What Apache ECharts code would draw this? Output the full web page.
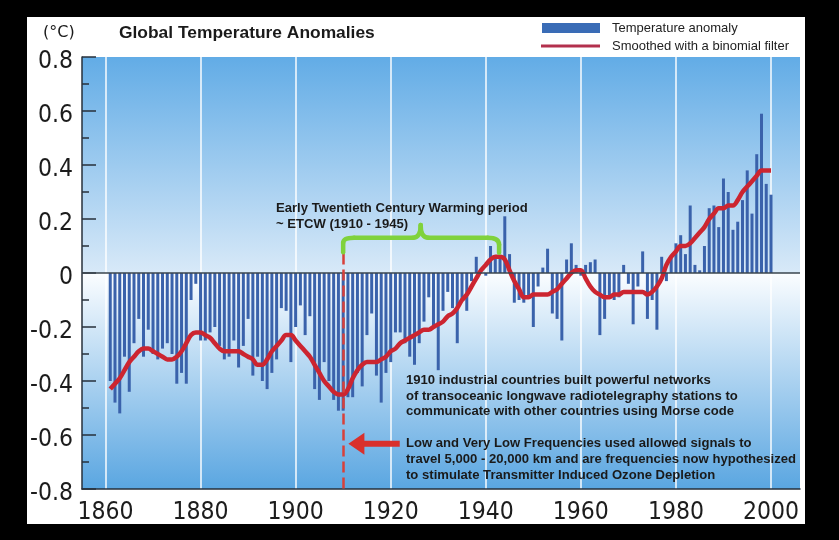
<!DOCTYPE html>
<html><head><meta charset="utf-8">
<script src="https://cdn.jsdelivr.net/npm/echarts@6/dist/echarts.min.js"></script>
<style>
html,body{margin:0;padding:0;background:#000;}
#wrap{position:relative;width:839px;height:540px;background:#000;overflow:hidden;}
#panel{position:absolute;left:27px;top:17px;width:778px;height:507px;background:#fff;}
#c{position:absolute;left:0;top:0;width:839px;height:540px;}
</style>
</head><body>
<div id="wrap"><div id="panel"></div><div id="c"></div></div>
<script>
// Annual global temperature anomalies (°C), 1861-2000
const firstYear = 1861;
const anomaly = [
 -0.40,-0.48,-0.52,-0.31,-0.44,-0.26,-0.17,-0.31,-0.21,-0.30,
 -0.32,-0.28,-0.26,-0.30,-0.41,-0.37,-0.41,-0.10,-0.04,-0.25,
 -0.25,-0.22,-0.20,-0.27,-0.32,-0.31,-0.25,-0.35,-0.27,-0.17,
 -0.38,-0.31,-0.40,-0.43,-0.37,-0.32,-0.13,-0.14,-0.33,-0.20,
 -0.12,-0.23,-0.16,-0.43,-0.47,-0.33,-0.40,-0.47,-0.51,-0.51,
 -0.46,-0.46,-0.37,-0.42,-0.23,-0.15,-0.38,-0.48,-0.37,-0.33,
 -0.22,-0.22,-0.26,-0.31,-0.34,-0.26,-0.18,-0.09,-0.20,-0.36,
 -0.14,-0.07,-0.13,-0.26,-0.10,-0.14,-0.03,0.06,0.00,-0.01,
 0.10,0.06,0.06,0.21,0.07,-0.11,-0.10,-0.11,-0.09,-0.20,
 -0.05,0.02,0.09,-0.15,-0.17,-0.25,0.05,0.11,0.03,-0.01,
 0.03,0.04,0.05,-0.23,-0.17,-0.09,-0.10,-0.09,0.03,-0.04,
 -0.19,-0.05,0.08,-0.17,-0.10,-0.21,0.06,-0.03,0.06,0.11,
 0.14,0.07,0.25,0.03,0.01,0.10,0.24,0.25,0.17,0.35,
 0.30,0.16,0.19,0.27,0.38,0.22,0.44,0.59,0.33,0.29
];
// Smoothed curve (binomial filter), 1861-2000
const smoothed = [
 -0.43,-0.41,-0.39,-0.36,-0.33,-0.31,-0.29,-0.28,-0.28,-0.29,
 -0.30,-0.31,-0.32,-0.32,-0.31,-0.29,-0.26,-0.23,-0.22,-0.22,
 -0.23,-0.24,-0.26,-0.28,-0.29,-0.29,-0.29,-0.29,-0.30,-0.31,
 -0.32,-0.34,-0.34,-0.32,-0.29,-0.27,-0.25,-0.23,-0.23,-0.25,
 -0.27,-0.29,-0.31,-0.34,-0.37,-0.40,-0.42,-0.44,-0.45,-0.45,
 -0.43,-0.39,-0.36,-0.34,-0.33,-0.33,-0.33,-0.32,-0.31,-0.29,
 -0.28,-0.26,-0.25,-0.24,-0.23,-0.22,-0.21,-0.21,-0.20,-0.19,
 -0.18,-0.16,-0.15,-0.13,-0.10,-0.08,-0.05,-0.02,0.01,0.03,
 0.05,0.06,0.06,0.05,0.01,-0.03,-0.06,-0.09,-0.09,-0.08,
 -0.08,-0.08,-0.08,-0.07,-0.06,-0.04,-0.02,0.00,0.01,0.01,
 -0.02,-0.05,-0.07,-0.08,-0.09,-0.09,-0.08,-0.08,-0.07,-0.07,
 -0.07,-0.07,-0.07,-0.08,-0.07,-0.05,-0.02,0.03,0.06,0.08,
 0.10,0.10,0.11,0.13,0.15,0.17,0.20,0.22,0.24,0.24,
 0.25,0.25,0.27,0.30,0.32,0.34,0.36,0.38,0.38,0.38
];
const years = anomaly.map((_, i) => firstYear + i);
const xTickYears = [1860, 1880, 1900, 1920, 1940, 1960, 1980, 2000];
const etcwStart = 1910, etcwPeak = 1942.8;

const chart = echarts.init(document.getElementById('c'), null, {renderer: 'canvas'});
const axisColor = '#27313b';
const tickFont = '"DejaVu Sans Condensed", "Liberation Sans", sans-serif';

chart.setOption({
  backgroundColor: 'transparent',
  animation: false,
  grid: {
    left: 82, top: 57, width: 718, height: 432, show: true, borderWidth: 0,
    backgroundColor: {type: 'linear', x: 0, y: 0, x2: 0, y2: 1, colorStops: [
      {offset: 0, color: '#62ace6'},
      {offset: 0.499, color: '#d8e9f8'},
      {offset: 0.5, color: '#fbfdff'},
      {offset: 1, color: '#5aa6e1'}
    ]}
  },
  xAxis: {
    type: 'value', min: 1855.06, max: 2006.1,
    axisLine: {show: true, onZero: false, lineStyle: {color: axisColor, width: 1.5}},
    axisTick: {show: false, customValues: xTickYears},
    axisLabel: {customValues: xTickYears, fontSize: 24.5, fontFamily: tickFont,
      color: '#1c1c1c', margin: 11, formatter: v => String(Math.round(v))},
    splitLine: {show: true, lineStyle: {color: '#ffffff', width: 1.6, opacity: 0.9}}
  },
  yAxis: {
    type: 'value', min: -0.8, max: 0.8, interval: 0.2,
    axisLine: {show: true, lineStyle: {color: axisColor, width: 1.5}},
    axisTick: {show: true, inside: true, length: 14, lineStyle: {color: axisColor, width: 1.5}},
    minorTick: {show: true, splitNumber: 2, length: 7, lineStyle: {color: axisColor, width: 1.5}},
    axisLabel: {margin: 9,
      formatter: v => '{t|' + (Math.abs(v) < 1e-9 ? '0' : v.toFixed(1)) + '}',
      rich: {t: {fontSize: 24.5, fontFamily: tickFont, color: '#1c1c1c', padding: [10, 0, 0, 0]}}},
    splitLine: {show: false}
  },
  series: [
    {
      name: 'Temperature anomaly', type: 'bar', barWidth: 3,
      data: years.map((y, i) => [y, anomaly[i]]),
      itemStyle: {color: '#3a62ab'},
      markLine: {
        silent: true, symbol: ['none', 'none'], label: {show: false}, animation: false,
        data: [
          {yAxis: 0, lineStyle: {color: '#3a444e', width: 1.5, type: 'solid'}},
          [
            {coord: [etcwStart, 0.072], lineStyle: {color: '#d8403a', width: 2.5, type: [11, 5]}},
            {coord: [etcwStart, -0.8], lineStyle: {color: '#d8403a', width: 2.5, type: [11, 5]}}
          ]
        ]
      }
    },
    {
      name: 'Smoothed with a binomial filter', type: 'line', smooth: 0.35, symbol: 'none', z: 4,
      data: years.map((y, i) => [y, smoothed[i]]),
      lineStyle: {color: '#cc2530', width: 4.5}
    }
  ]
});

const px = (x, y) => chart.convertToPixel({gridIndex: 0}, [x, y]);

// green bracket for the ETCW period
const A = px(etcwStart, 0.077), B = px(etcwStart, 0.112), C = px(1912.3, 0.131);
const D = px(1924.7, 0.131), E = px(1926.3, 0.178), F = px(1927.9, 0.131);
const G = px(1940.4, 0.131), H = px(etcwPeak, 0.105), I = px(etcwPeak, 0.075);
const green = {stroke: '#80d23c', lineWidth: 4.5, lineCap: 'round', fill: null};
const seg = (p, q) => ({type: 'line', silent: true, z: 10,
  shape: {x1: p[0], y1: p[1], x2: q[0], y2: q[1]}, style: Object.assign({}, green)});
const curve = (p, c, q) => ({type: 'bezierCurve', silent: true, z: 10,
  shape: {x1: p[0], y1: p[1], x2: q[0], y2: q[1], cpx1: c[0], cpy1: c[1]}, style: Object.assign({}, green)});

// red arrow pointing at 1910
const T = px(1911.1, -0.632), tail = px(1921.9, -0.632);
const arrowPts = [
  [T[0], T[1]], [T[0] + 16, T[1] - 11], [T[0] + 16, T[1] - 3], [tail[0], T[1] - 3],
  [tail[0], T[1] + 3], [T[0] + 16, T[1] + 3], [T[0] + 16, T[1] + 11]
];

const txt = (x, y, s, font, fill) => ({
  type: 'text', x: x, y: y, silent: true, z: 12,
  style: {text: s, font: font, fill: fill || '#1a1a1a', verticalAlign: 'middle', align: 'left'}
});
const boldF = 'bold 13.1px "Liberation Sans", Arial, sans-serif';
const regF = '13px "Liberation Sans", Arial, sans-serif';

chart.setOption({
  graphic: {elements: [
    txt(43, 33, '(°C)', '16px "DejaVu Sans", sans-serif'),
    txt(119, 33, 'Global Temperature Anomalies', 'bold 17.4px "Liberation Sans", Arial, sans-serif'),
    {type: 'rect', silent: true, shape: {x: 542, y: 23, width: 58, height: 10}, style: {fill: '#3a6cb6'}},
    {type: 'rect', silent: true, shape: {x: 541, y: 44.5, width: 59, height: 3}, style: {fill: '#b3304d'}},
    txt(612, 28, 'Temperature anomaly', regF, '#222'),
    txt(612, 46, 'Smoothed with a binomial filter', regF, '#222'),
    txt(276, 208, 'Early Twentieth Century Warming period', boldF),
    txt(276, 224, '~ ETCW (1910 - 1945)', boldF),
    seg(A, B), curve(B, [B[0], C[1]], C), seg(C, D),
    curve(D, [E[0], D[1]], E), curve(E, [E[0], F[1]], F),
    seg(F, G), curve(G, [H[0], G[1]], H), seg(H, I),
    {type: 'polygon', silent: true, z: 10, shape: {points: arrowPts}, style: {fill: '#d9302c'}},
    txt(406, 380, '1910 industrial countries built powerful networks', boldF),
    txt(406, 396, 'of transoceanic longwave radiotelegraphy stations to', boldF),
    txt(406, 411, 'communicate with other countries using Morse code', boldF),
    txt(406, 443, 'Low and Very Low Frequencies used allowed signals to', boldF),
    txt(406, 459, 'travel 5,000 - 20,000 km and are frequencies now hypothesized', boldF),
    txt(406, 475, 'to stimulate Transmitter Induced Ozone Depletion', boldF)
  ]}
});
</script>
</body></html>
